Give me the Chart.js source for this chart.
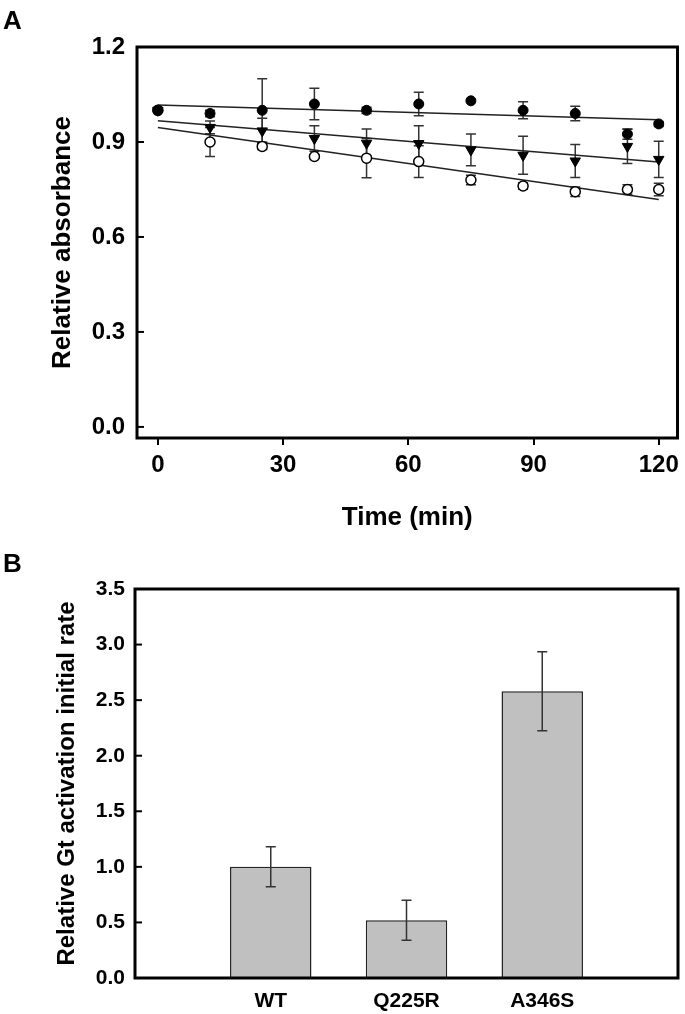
<!DOCTYPE html>
<html>
<head>
<meta charset="utf-8">
<script src="https://cdn.jsdelivr.net/npm/chart.js@4.4.1/dist/chart.umd.min.js"></script>
<style>
  html, body { margin: 0; padding: 0; background: #fff; }
  body { width: 685px; height: 1014px; position: relative; overflow: hidden; font-family: "Liberation Sans", Arial, sans-serif; }
  .panel { position: absolute; left: 0; width: 685px; }
  #wrapA { top: 0; height: 545px; }
  #wrapB { top: 545px; height: 469px; }
  .tag { position: absolute; left: 3px; font-weight: bold; font-size: 26px; line-height: 26px; color: #000; }
</style>
</head>
<body>
<div class="panel" id="wrapA"><canvas id="chartA" width="685" height="545"></canvas></div>
<div class="panel" id="wrapB"><canvas id="chartB" width="685" height="469"></canvas></div>
<div class="tag" style="top:7px">A</div>
<div class="tag" style="top:550px">B</div>
<script>
// panel A - relative absorbance vs time
const times = [0, 12.5, 25, 37.5, 50, 62.5, 75, 87.5, 100, 112.5, 120];
const filledCircle = [1.00, 0.99, 1.00, 1.02, 1.00, 1.02, 1.03, 1.00, 0.99, 0.925, 0.957];
const filledCircleErr = [0.005, 0.01, 0.10, 0.05, 0.01, 0.037, 0, 0.027, 0.023, 0.016, 0.008];
const triangle = [1.00, 0.946, 0.935, 0.911, 0.896, 0.895, 0.875, 0.858, 0.840, 0.886, 0.845];
const triangleErr = [0, 0.02, 0.04, 0.04, 0.045, 0.056, 0.05, 0.06, 0.052, 0.054, 0.057];
const openCircle = [1.00, 0.900, 0.886, 0.854, 0.849, 0.838, 0.780, 0.761, 0.743, 0.750, 0.750];
const openCircleErr = [0, 0.046, 0.01, 0.005, 0.062, 0.05, 0.015, 0.01, 0.015, 0.015, 0.02];
const fitTimes = [0, 120];
const filledFit = [1.017, 0.970];
const triangleFit = [0.967, 0.837];
const openFit = [0.946, 0.718];
const timeTicks = [0, 30, 60, 90, 120];
const absTicks = [0, 0.3, 0.6, 0.9, 1.2];

// panel B - initial rate
const variants = ['WT', 'Q225R', 'A346S'];
const rates = [1.00, 0.52, 2.58];
const rateErr = [0.18, 0.18, 0.355];
const rateTicks = [0, 0.5, 1.0, 1.5, 2.0, 2.5, 3.0, 3.5];

const FONT = '"Liberation Sans", Arial, sans-serif';

function drawErrors(chart) {
  const ctx = chart.ctx;
  const y = chart.scales.y;
  ctx.save();
  ctx.strokeStyle = '#333';
  ctx.lineWidth = 1.5;
  chart.data.datasets.forEach((ds, di) => {
    if (!ds.errorBars) return;
    const meta = chart.getDatasetMeta(di);
    meta.data.forEach((el, i) => {
      const err = ds.errorBars[i];
      if (!err) return;
      const v = typeof ds.data[i] === 'object' ? ds.data[i].y : ds.data[i];
      const top = y.getPixelForValue(v + err);
      const bot = y.getPixelForValue(v - err);
      ctx.beginPath();
      ctx.moveTo(el.x, top); ctx.lineTo(el.x, bot);
      ctx.moveTo(el.x - 5, top); ctx.lineTo(el.x + 5, top);
      ctx.moveTo(el.x - 5, bot); ctx.lineTo(el.x + 5, bot);
      ctx.stroke();
    });
  });
  ctx.restore();
}

const framePlugin = {
  id: 'frame',
  beforeDatasetsDraw(chart, args, opts) {
    if (!opts.errorsOnTop) drawErrors(chart);
  },
  afterDatasetsDraw(chart, args, opts) {
    if (opts.errorsOnTop) drawErrors(chart);
    const {ctx, chartArea: a} = chart;
    const y = chart.scales.y;
    ctx.save();
    ctx.strokeStyle = '#000';
    ctx.lineWidth = 3;
    ctx.strokeRect(a.left, a.top, a.right - a.left, a.bottom - a.top);
    ctx.lineWidth = 2;
    y.ticks.forEach(t => {
      const py = y.getPixelForValue(t.value);
      ctx.beginPath();
      ctx.moveTo(a.left, py);
      ctx.lineTo(a.left + 7, py);
      ctx.stroke();
    });
    ctx.restore();
  }
};

const pts = (xs, ys) => xs.map((x, i) => ({x: x, y: ys[i]}));

new Chart(document.getElementById('chartA'), {
  type: 'scatter',
  data: {
    datasets: [
      { data: pts(times, filledCircle), errorBars: filledCircleErr, pointStyle: 'circle', pointRadius: 5,
        backgroundColor: '#000', borderColor: '#000', borderWidth: 1 },
      { data: pts(times, triangle), errorBars: triangleErr, pointStyle: 'triangle', rotation: 180, pointRadius: 6,
        backgroundColor: '#000', borderColor: '#000', borderWidth: 1 },
      { data: pts(times, openCircle), errorBars: openCircleErr, pointStyle: 'circle', pointRadius: 5,
        backgroundColor: '#fff', borderColor: '#000', borderWidth: 1.5 },
      { data: pts(fitTimes, filledFit), showLine: true, pointRadius: 0, borderColor: '#222', borderWidth: 1.5 },
      { data: pts(fitTimes, triangleFit), showLine: true, pointRadius: 0, borderColor: '#222', borderWidth: 1.5 },
      { data: pts(fitTimes, openFit), showLine: true, pointRadius: 0, borderColor: '#222', borderWidth: 1.5 }
    ]
  },
  options: {
    responsive: false,
    animation: false,
    devicePixelRatio: 1,
    layout: { padding: { top: 47, right: 6, left: 0, bottom: 0 } },
    plugins: { legend: { display: false }, tooltip: { enabled: false }, frame: { errorsOnTop: false } },
    scales: {
      x: {
        type: 'linear', min: -5, max: 124.5,
        afterBuildTicks: s => { s.ticks = timeTicks.map(v => ({value: v})); },
        afterFit: s => { s.height = 107; },
        border: { display: false },
        grid: { drawOnChartArea: false, drawTicks: true, tickLength: 7, color: '#000', lineWidth: 2 },
        ticks: { color: '#000', font: { family: FONT, size: 24, weight: 'bold' }, padding: 6, maxRotation: 0 },
        title: { display: true, text: 'Time (min)', color: '#000', font: { family: FONT, size: 26, weight: 'bold' }, padding: { bottom: 12 } }
      },
      y: {
        min: -0.035, max: 1.2,
        afterBuildTicks: s => { s.ticks = absTicks.map(v => ({value: v})); },
        afterFit: s => { s.width = 137; },
        border: { display: false },
        grid: { display: false, drawTicks: false },
        ticks: { color: '#000', font: { family: FONT, size: 24, weight: 'bold' }, padding: 12, callback: v => v.toFixed(1) },
        title: { display: true, text: 'Relative absorbance', color: '#000', font: { family: FONT, size: 26, weight: 'bold' }, padding: { top: 47 } }
      }
    }
  },
  plugins: [framePlugin]
});

new Chart(document.getElementById('chartB'), {
  type: 'bar',
  data: {
    datasets: [{
      data: pts(variants.map((v, i) => i + 1), rates),
      errorBars: rateErr,
      backgroundColor: '#c0c0c0',
      borderColor: '#222',
      borderWidth: 1.5,
      categoryPercentage: 1,
      barPercentage: 0.6
    }]
  },
  options: {
    responsive: false,
    animation: false,
    devicePixelRatio: 1,
    layout: { padding: { top: 44, right: 7, left: 0, bottom: 0 } },
    plugins: { legend: { display: false }, tooltip: { enabled: false }, frame: { errorsOnTop: true } },
    scales: {
      x: {
        type: 'linear', min: 0, max: 4, offset: false,
        afterBuildTicks: s => { s.ticks = variants.map((v, i) => ({value: i + 1})); },
        afterFit: s => { s.height = 36; },
        border: { display: false },
        grid: { display: false, drawTicks: false, offset: false },
        ticks: { color: '#000', font: { family: FONT, size: 21, weight: 'bold' }, padding: 11, maxRotation: 0, autoSkip: false,
          callback: v => variants[v - 1] }
      },
      y: {
        min: 0, max: 3.5,
        afterBuildTicks: s => { s.ticks = rateTicks.map(v => ({value: v})); },
        afterFit: s => { s.width = 135; },
        border: { display: false },
        grid: { display: false, drawTicks: false },
        ticks: { color: '#000', font: { family: FONT, size: 21, weight: 'bold' }, padding: 10, callback: v => v.toFixed(1) },
        title: { display: true, text: 'Relative Gt activation initial rate', color: '#000', font: { family: FONT, size: 24, weight: 'bold' }, padding: { top: 53 } }
      }
    }
  },
  plugins: [framePlugin]
});
</script>
</body>
</html>
